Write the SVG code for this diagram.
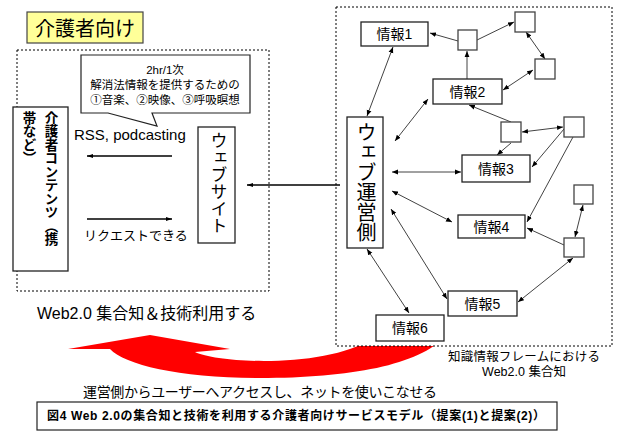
<svg xmlns="http://www.w3.org/2000/svg" width="617" height="434" viewBox="0 0 617 434">
<style>
text{font-family:"Liberation Sans","Noto Sans CJK JP",sans-serif;fill:#000}
.node{fill:#fff;stroke:#222;stroke-width:1.3}
.sq{fill:#fff;stroke:#444;stroke-width:1.3}
.dash{fill:#fff;stroke:#000;stroke-width:1;stroke-dasharray:2,2}
.c{stroke:#111;stroke-width:0.8;fill:none;marker-end:url(#ah)}
.b{marker-start:url(#ah)}
.thick{stroke:#000;stroke-width:1.4;fill:none;marker-end:url(#ah2)}
.lbl{font-size:14px;text-anchor:middle}
.v{writing-mode:vertical-rl}
</style>
<defs>
<marker id="ah" viewBox="0 0 10 10" refX="10" refY="5" markerWidth="6" markerHeight="6" markerUnits="userSpaceOnUse" orient="auto-start-reverse"><path d="M0,1 L10,5 L0,9 z" fill="#000"/></marker>
<marker id="ah2" viewBox="0 0 10 10" refX="10" refY="5" markerWidth="7" markerHeight="6" markerUnits="userSpaceOnUse" orient="auto-start-reverse"><path d="M0,1.5 L10,5 L0,8.5 z" fill="#000"/></marker>
</defs>
<rect width="617" height="434" fill="#fff"/>

<!-- red curved arrow -->
<path id="red-arrow" d="M68,349 L150,335 L230,349 L195,352 C220,364 330,368 372,338 L445,336 C420,365 350,378 260,378 C180,378 125,365 110,349 Z" fill="#ff0000"/>

<!-- containers -->
<rect class="dash" x="17" y="50" width="252" height="241"/>
<rect class="dash" x="336" y="7" width="276" height="339"/>

<g id="title">
<rect x="27" y="12" width="116" height="31" fill="#ffff99" stroke="#444" stroke-width="1.2"/>
<text x="85" y="36" font-size="20" text-anchor="middle">介護者向け</text>
</g>

<g id="callout">
<path d="M81,55 H250 V113 H152 L157,126 L108,113 H81 Z" fill="#fff" stroke="#222" stroke-width="1.2"/>
<text x="165" y="74" font-size="11.5" text-anchor="middle">2hr/1次</text>
<text x="165" y="89" font-size="11.5" text-anchor="middle">解消法情報を提供するための</text>
<text x="165" y="104" font-size="11.5" text-anchor="middle">①音楽、②映像、③呼吸瞑想</text>
</g>

<g id="contents">
<rect class="node" x="13" y="107" width="55" height="164"/>
<text class="v" x="50" y="111" font-size="13.5" font-weight="bold">介護者コンテンツ（携</text>
<text class="v" x="28" y="111" font-size="13.5" font-weight="bold">帯など）</text>
</g>

<g id="website">
<rect class="node" x="198" y="127" width="37" height="116"/>
<text class="v" x="217" y="132" font-size="17">ウェブサイト</text>
</g>

<g id="labels-left">
<text x="74" y="140" font-size="15">RSS, podcasting</text>
<text x="84" y="240" font-size="13">リクエストできる</text>
<text x="37" y="319" font-size="16">Web2.0 集合知＆技術利用する</text>
<text x="83" y="397" font-size="14" textLength="354">運営側からユーザーへアクセスし、ネットを使いこなせる</text>
<text x="524" y="361" font-size="12.5" text-anchor="middle" textLength="152">知識情報フレームにおける</text>
<text x="524" y="376" font-size="12.5" text-anchor="middle">Web2.0 集合知</text>
</g>

<g id="connectors">
<path class="thick" d="M172,156 H87"/>
<path class="thick" d="M87,219 H172"/>
<path class="thick" d="M340,185 H247"/>
<path class="c b" d="M367,116 L393,47"/>
<path class="c" d="M458,41 L430,33"/>
<path class="c" d="M467,79 L467,51"/>
<path class="c" d="M477,40 L514,22"/>
<path class="c b" d="M526,32 L545,59"/>
<path class="c b" d="M533,70 L503,90"/>
<path class="c b" d="M395,141 L428,99"/>
<path class="c" d="M511,122 L469,105"/>
<path class="c b" d="M522,132 L563,127"/>
<path class="c" d="M511,143 L497,155"/>
<path class="c" d="M564,129 L532,167"/>
<path class="c" d="M573,137 L527,222"/>
<path class="c b" d="M392,172 L461,172"/>
<path class="c b" d="M392,191 L452,222"/>
<path class="c b" d="M391,209 L447,299"/>
<path class="c b" d="M367,249 L409,313"/>
<path class="c" d="M564,245 L527,228"/>
<path class="c b" d="M583,205 L575,237"/>
<path class="c b" d="M573,258 L518,302"/>
</g>

<g id="operator">
<rect class="node" x="347" y="117" width="36" height="131"/>
<text class="v" x="365" y="122" font-size="20">ウェブ運営側</text>
</g>
<g id="info1"><rect class="node" x="361" y="22" width="67" height="24"/><text class="lbl" x="394.5" y="39">情報1</text></g>
<g id="info2"><rect class="node" x="433" y="79" width="69" height="25"/><text class="lbl" x="467.5" y="97">情報2</text></g>
<g id="info3"><rect class="node" x="462" y="155" width="68" height="27"/><text class="lbl" x="496" y="174">情報3</text></g>
<g id="info4"><rect class="node" x="458" y="215" width="67" height="23"/><text class="lbl" x="491.5" y="232">情報4</text></g>
<g id="info5"><rect class="node" x="448" y="291" width="69" height="25"/><text class="lbl" x="482.5" y="309">情報5</text></g>
<g id="info6"><rect class="node" x="376" y="315" width="68" height="26"/><text class="lbl" x="410" y="333">情報6</text></g>
<g id="sqA"><rect class="sq" x="458" y="30" width="19" height="20"/></g>
<g id="sqB"><rect class="sq" x="515" y="12" width="20" height="20"/></g>
<g id="sqC"><rect class="sq" x="535" y="59" width="20" height="20"/></g>
<g id="sqD"><rect class="sq" x="501" y="122" width="20" height="20"/></g>
<g id="sqE"><rect class="sq" x="564" y="117" width="20" height="20"/></g>
<g id="sqF"><rect class="sq" x="574" y="185" width="19" height="19"/></g>
<g id="sqG"><rect class="sq" x="564" y="238" width="20" height="19"/></g>

<g id="caption">
<rect x="37" y="402" width="520" height="28" fill="#fff" stroke="#222" stroke-width="1.2"/>
<text x="47" y="420" font-size="12" font-weight="bold" textLength="498">図4 Web 2.0の集合知と技術を利用する介護者向けサービスモデル（提案(1)と提案(2)）</text>
</g>
</svg>
